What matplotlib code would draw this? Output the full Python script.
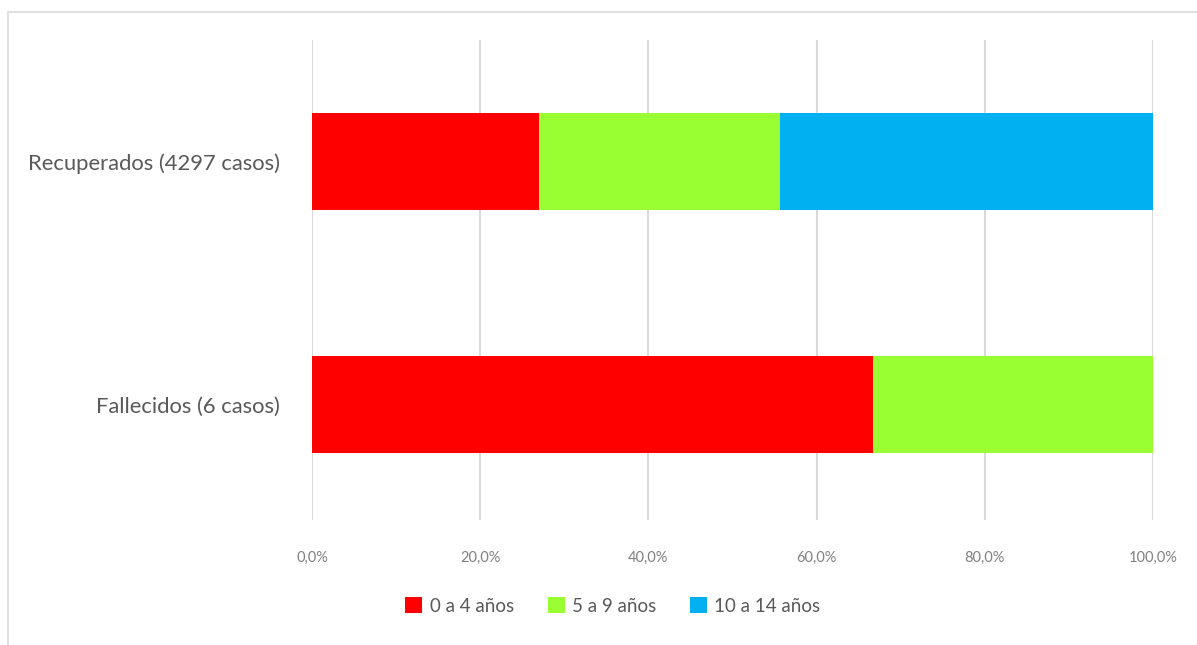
import matplotlib
matplotlib.use("Agg")
import matplotlib.pyplot as plt
from matplotlib.patches import Rectangle, Patch
from matplotlib.ticker import FuncFormatter

categories = ["Fallecidos (6 casos)", "Recuperados (4297 casos)"]
series_names = ["0 a 4 años", "5 a 9 años", "10 a 14 años"]
series_values = {
    "0 a 4 años": [66.7, 27.0],
    "5 a 9 años": [33.3, 28.6],
    "10 a 14 años": [0.0, 44.4],
}
colors = ["#FF0000", "#99FF33", "#00B0F0"]
xticks = [0, 20, 40, 60, 80, 100]

plt.rcParams['font.family'] = ['Lato', 'DejaVu Sans']

fig = plt.figure(figsize=(11.97, 6.45), dpi=100)
# chart border
fig.patches.append(Rectangle((8 / 1197, -0.1), 1.2, (645 - 12) / 645 + 0.1,
                             transform=fig.transFigure, fill=False,
                             edgecolor="#D9D9D9", linewidth=1.2))

ax = fig.add_axes([312 / 1197, 1 - 520 / 645, 841 / 1197, 480 / 645])
ypos = list(range(len(categories)))
left = [0.0] * len(categories)
for name, c in zip(series_names, colors):
    vals = series_values[name]
    ax.barh(ypos, vals, left=left, height=0.4, color=c, label=name, zorder=2)
    left = [l + v for l, v in zip(left, vals)]

ax.set_xlim(0, 100)
ax.set_ylim(-0.475, 1.5)
ax.set_xticks(xticks)
ax.xaxis.set_major_formatter(FuncFormatter(lambda v, p: f"{v:.1f}%".replace(".", ",")))
ax.set_yticks(ypos)
ax.set_yticklabels(categories)
ax.grid(axis="x", color="#D9D9D9", linewidth=1.5, zorder=0)
for s in ax.spines.values():
    s.set_visible(False)
ax.tick_params(axis="x", length=0, pad=22, labelsize=10.5, labelcolor="#808080")
ax.tick_params(axis="y", length=0, pad=23, labelsize=15.8, labelcolor="#595959")

handles = [Patch(facecolor=c, edgecolor="none") for c in colors]
fig.legend(handles, series_names, loc="center", bbox_to_anchor=(613 / 1197, 1 - 606 / 645),
           ncol=3, frameon=False, fontsize=13.5, labelcolor="#595959",
           handlelength=0.9, handleheight=0.9, handletextpad=0.4, columnspacing=1.8)

fig.savefig("out.png", dpi=100, facecolor="white")
